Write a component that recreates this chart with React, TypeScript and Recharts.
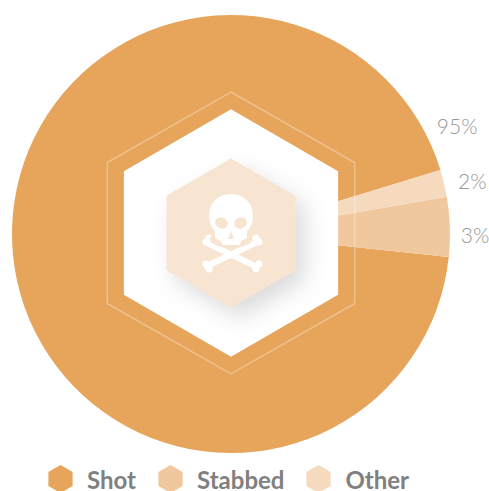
import React from 'react';
import { PieChart, Pie, Cell, Legend } from 'recharts';

const categories = ['Shot', 'Stabbed', 'Other'];
// wedge sizes as they are drawn, the printed labels do not quite agree with them
const drawnShares = [93.6, 4.4, 2.0];
const shareLabels = ['95%', '3%', '2%'];
const colors = ['#e6a55b', '#f1c89e', '#f5dabd'];

const chartData = categories.map((name, i) => ({ name, value: drawnShares[i] }));

const CX = 231;
const CY = 234;
const HEX_CY = 233;

const hexPoints = (cx: number, cy: number, r: number, xScale = 1) =>
  [90, 30, -30, -90, -150, 150]
    .map((deg) => {
      const a = (deg * Math.PI) / 180;
      return `${cx + xScale * r * Math.cos(a)},${cy - r * Math.sin(a)}`;
    })
    .join(' ');

// label anchor around the pie: radius and angle per slice
const labelPolar = [
  { r: 251, deg: 25.7 },
  { r: 244, deg: -0.2 },
  { r: 247, deg: 12.4 },
];

const renderLabel = ({ index }: any) => {
  const { r, deg } = labelPolar[index];
  const a = (deg * Math.PI) / 180;
  return (
    <text
      x={CX + r * Math.cos(a)}
      y={CY - r * Math.sin(a)}
      textAnchor="middle"
      dominantBaseline="central"
      fill="#969696"
      style={{ fontFamily: 'Lato', fontWeight: 300, fontSize: 21 }}
    >
      {shareLabels[index]}
    </text>
  );
};

const Skull = () => (
  <g>
    <g stroke="#ffffff" strokeWidth={6} strokeLinecap="round">
      <line x1={207} y1={243} x2={255} y2={266} />
      <line x1={207} y1={266} x2={255} y2={243} />
    </g>
    <g fill="#ffffff">
      <circle cx={209} cy={238} r={3.6} />
      <circle cx={206} cy={242} r={3.6} />
      <circle cx={256} cy={238} r={3.6} />
      <circle cx={259} cy={242} r={3.6} />
      <circle cx={206} cy={264} r={3.6} />
      <circle cx={209} cy={269} r={3.6} />
      <circle cx={259} cy={264} r={3.6} />
      <circle cx={256} cy={269} r={3.6} />
    </g>
    <ellipse cx={231} cy={239} rx={21} ry={9} fill="#f7e5d2" />
    <path
      fill="#ffffff"
      d="M231 194 C218 194 209 203 209 216 C209 223 212 228 215 231 L215 238 L221 241 L222 245 L240 245 L241 241 L247 238 L247 231 C250 228 253 223 253 216 C253 203 244 194 231 194 Z"
    />
    <ellipse cx={221.5} cy={223} rx={6.5} ry={5.5} fill="#f7e5d2" transform="rotate(20 221.5 223)" />
    <ellipse cx={240.5} cy={223} rx={6.5} ry={5.5} fill="#f7e5d2" transform="rotate(-20 240.5 223)" />
    <path fill="#f7e5d2" d="M231 231 L234 239 L228 239 Z" />
  </g>
);

// sits over the chart, recharts layers the pie above its own svg children
const Badge = () => (
  <svg width={489} height={491} style={{ position: 'absolute', left: 0, top: 0, pointerEvents: 'none' }}>
    <polygon points={hexPoints(CX, HEX_CY, 123.7)} fill="#ffffff" />
    <polygon points={hexPoints(CX, HEX_CY, 141, 1.013)} fill="none" stroke="#ffffff" strokeOpacity={0.3} strokeWidth={1.5} />
    <polygon
      points={hexPoints(CX, HEX_CY, 74.5)}
      fill="#f7e5d2"
      style={{ filter: 'drop-shadow(9px 10px 11px rgba(0,0,0,0.14))' }}
    />
    <Skull />
  </svg>
);

const LegendContent = () => (
  <div style={{ display: 'flex', alignItems: 'flex-start', paddingLeft: 48, height: 26 }}>
    {categories.map((name, i) => (
      <div key={name} style={{ display: 'flex', alignItems: 'flex-start', marginRight: 22 }}>
        <svg width={25} height={26} style={{ marginRight: 14, display: 'block' }}>
          <polygon points={hexPoints(12.5, 14, 14)} fill={colors[i]} />
        </svg>
        <span style={{ display: 'block', marginTop: 4, lineHeight: '22px', fontFamily: 'Lato', fontWeight: 700, fontSize: 24, color: '#808080' }}>
          {name}
        </span>
      </div>
    ))}
  </div>
);

export default function App() {
  return (
    <div style={{ position: 'absolute', left: 0, top: 0, width: 489, height: 491 }}>
      <PieChart width={489} height={491} margin={{ top: 0, right: 0, bottom: 0, left: 0 }}>
        <Pie
          data={chartData}
          dataKey="value"
          nameKey="name"
          cx={CX}
          cy={CY}
          innerRadius={0}
          outerRadius={219}
          startAngle={17}
          endAngle={377}
          stroke="none"
          label={renderLabel}
          labelLine={false}
          isAnimationActive={false}
        >
          {chartData.map((d, i) => (
            <Cell key={d.name} fill={colors[i]} />
          ))}
        </Pie>
        <Legend
          content={LegendContent}
          wrapperStyle={{ left: 0, top: 465, width: 489 }}
        />
      </PieChart>
      <Badge />
    </div>
  );
}
